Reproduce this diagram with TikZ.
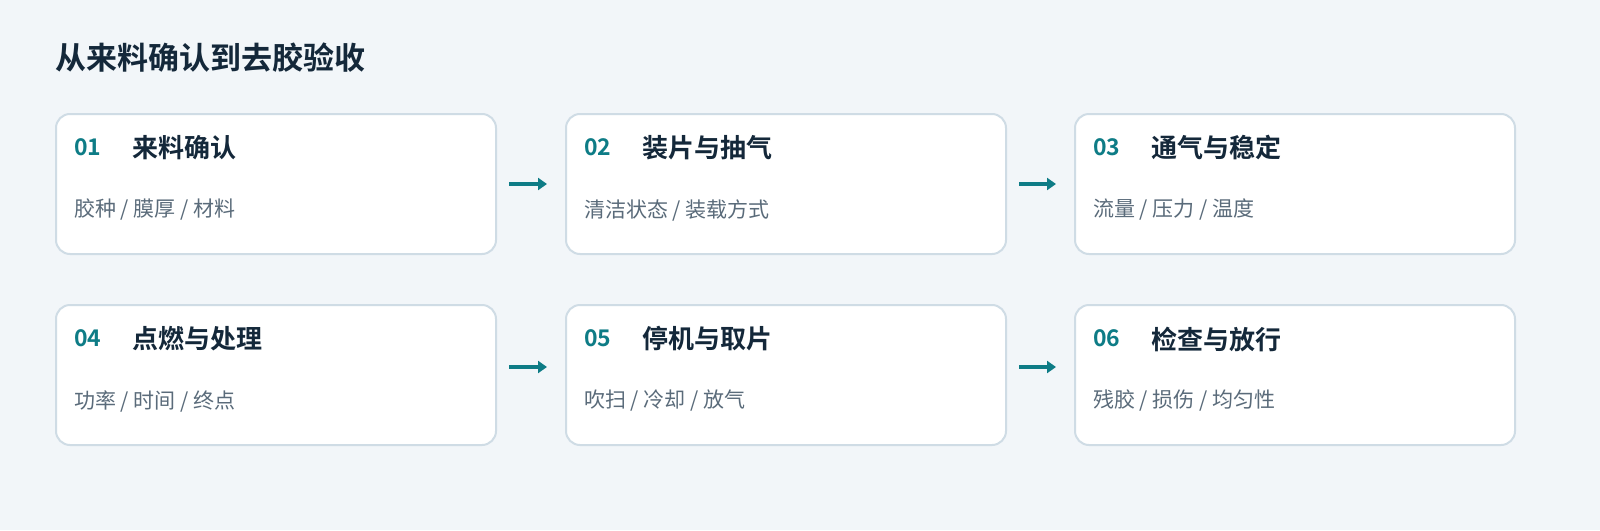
\documentclass[tikz,border=0pt]{standalone}
\usepackage{fontspec}
\setmainfont{Noto Sans CJK SC}[BoldFont={Noto Sans CJK SC Bold}]
\usetikzlibrary{arrows.meta}
\definecolor{bg}{HTML}{F2F6F9}
\definecolor{bd}{HTML}{CFDCE5}
\definecolor{teal}{HTML}{0E7C86}
\definecolor{dark}{HTML}{14283A}
\definecolor{gr}{HTML}{5A6B7A}
\begin{document}
\begin{tikzpicture}[x=1pt,y=-1pt,
 card/.style={draw=bd,line width=2pt,fill=white,rounded corners=14pt,minimum width=440pt,minimum height=140pt,anchor=north west},
 num/.style={anchor=west,text=teal,font=\bfseries\fontsize{23}{26}\selectfont},
 ttl/.style={anchor=west,text=dark,font=\bfseries\fontsize{26}{30}\selectfont},
 sub/.style={anchor=west,text=gr,font=\fontsize{21}{25}\selectfont},
 arr/.style={draw=teal,line width=4pt,-{Triangle[length=9pt,width=12pt]},shorten <=12pt,shorten >=18pt}]
\useasboundingbox (0,0) rectangle (1600,530);
\fill[bg] (0,0) rectangle (1600,530);
\node[anchor=west,text=dark,font=\bfseries\fontsize{31}{36}\selectfont,inner sep=0] (h) at (55,58) {从来料确认到去胶验收};
\foreach \n/\x/\y/\num/\t/\s in {
 c1/55/113/01/来料确认/{胶种 / 膜厚 / 材料},
 c2/565/113/02/装片与抽气/{清洁状态 / 装载方式},
 c3/1074/113/03/通气与稳定/{流量 / 压力 / 温度},
 c4/55/304/04/点燃与处理/{功率 / 时间 / 终点},
 c5/565/304/05/停机与取片/{吹扫 / 冷却 / 放气},
 c6/1074/304/06/检查与放行/{残胶 / 损伤 / 均匀性}}{
 \node[card] (\n) at (\x,\y) {};
 \node[num,inner sep=0] (\n n) at (\x+19,\y+34) {\num};
 \node[ttl,inner sep=0] (\n t) at (\x+77,\y+35) {\t};
 \node[sub,inner sep=0] (\n s) at (\x+19,\y+97) {\s};
}
\draw[arr] (c1.east) -- (c2.west);
\draw[arr] (c2.east) -- (c3.west);
\draw[arr] ([yshift=8pt]c4.east) -- ([yshift=8pt]c5.west);
\draw[arr] ([yshift=8pt]c5.east) -- ([yshift=8pt]c6.west);
\end{tikzpicture}
\end{document}
